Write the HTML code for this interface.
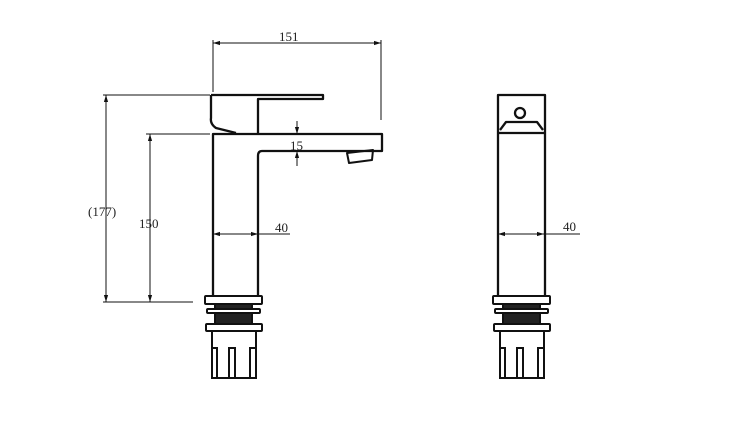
<!DOCTYPE html>
<html><head><style>body{margin:0;background:#fff}svg{display:block}text{font-family:"Liberation Serif",serif;font-size:13px;fill:#222}</style></head><body>
<svg width="748" height="433" viewBox="0 0 748 433" xmlns="http://www.w3.org/2000/svg">
<defs><marker id="a" viewBox="0 0 10 10" refX="10" refY="5" markerWidth="7" markerHeight="7" orient="auto-start-reverse"><path d="M0,2 L10,5 L0,8z" fill="#111"/></marker></defs>
<g stroke="#111" stroke-width="1" fill="none">
<!-- dims -->
<line x1="213" y1="40" x2="213" y2="92"/><line x1="381" y1="40" x2="381" y2="120"/>
<line x1="213" y1="43" x2="381" y2="43" marker-start="url(#a)" marker-end="url(#a)"/>
<line x1="103" y1="95" x2="210" y2="95"/><line x1="103" y1="302" x2="193" y2="302"/>
<line x1="106" y1="95" x2="106" y2="302" marker-start="url(#a)" marker-end="url(#a)"/>
<line x1="146" y1="134" x2="210" y2="134"/>
<line x1="150" y1="134" x2="150" y2="302" marker-start="url(#a)" marker-end="url(#a)"/>
<line x1="297" y1="121" x2="297" y2="134" marker-end="url(#a)"/>
<line x1="297" y1="166" x2="297" y2="151" marker-end="url(#a)"/>
<line x1="213" y1="234" x2="258" y2="234" marker-start="url(#a)" marker-end="url(#a)"/>
<line x1="258" y1="234" x2="290" y2="234"/>
<line x1="498" y1="234" x2="544" y2="234" marker-start="url(#a)" marker-end="url(#a)"/>
<line x1="544" y1="234" x2="580" y2="234"/>
</g>
<g stroke="#111" stroke-width="2.3" fill="none" stroke-linejoin="round">
<!-- left faucet -->
<path d="M213,296 V134 H382 V151 H262 Q258,151 258,156 V296"/>
<path d="M211,95 H323 V99 H258 V133"/>
<path d="M211,95 V118 Q210,124 216,128 L236,133"/>
<path d="M347,153 L373,150 L372,160 L349,163 Z" stroke-width="2"/>
<!-- right faucet -->
<path d="M498,296 V95 H545 V296"/>
<path d="M498,133 H545"/>
<path d="M500,130 L506,122 H537 L543,130"/>
<circle cx="520" cy="113" r="5"/>
</g>
<g id="base" stroke="#111" stroke-width="2" fill="none">
<rect x="205" y="296" width="57" height="8" rx="1" fill="#fff"/>
<rect x="215" y="304" width="37" height="21" fill="#222"/>
<rect x="207" y="309" width="53" height="4" rx="1" fill="#fff"/>
<rect x="206" y="324" width="56" height="7" rx="1" fill="#fff"/>
<path d="M212,331 V378 H256 V331"/>
<path d="M212,378 V348 M217,378 V348 H212 M229,378 V348 H235 V378 M250,378 V348 H256" />
</g>
<use href="#base" x="288"/>
<text x="279" y="41">151</text>
<text x="88" y="216">(177)</text>
<text x="139" y="228">150</text>
<text x="290" y="150">15</text>
<text x="275" y="232">40</text>
<text x="563" y="231">40</text>
</svg>
</body></html>
